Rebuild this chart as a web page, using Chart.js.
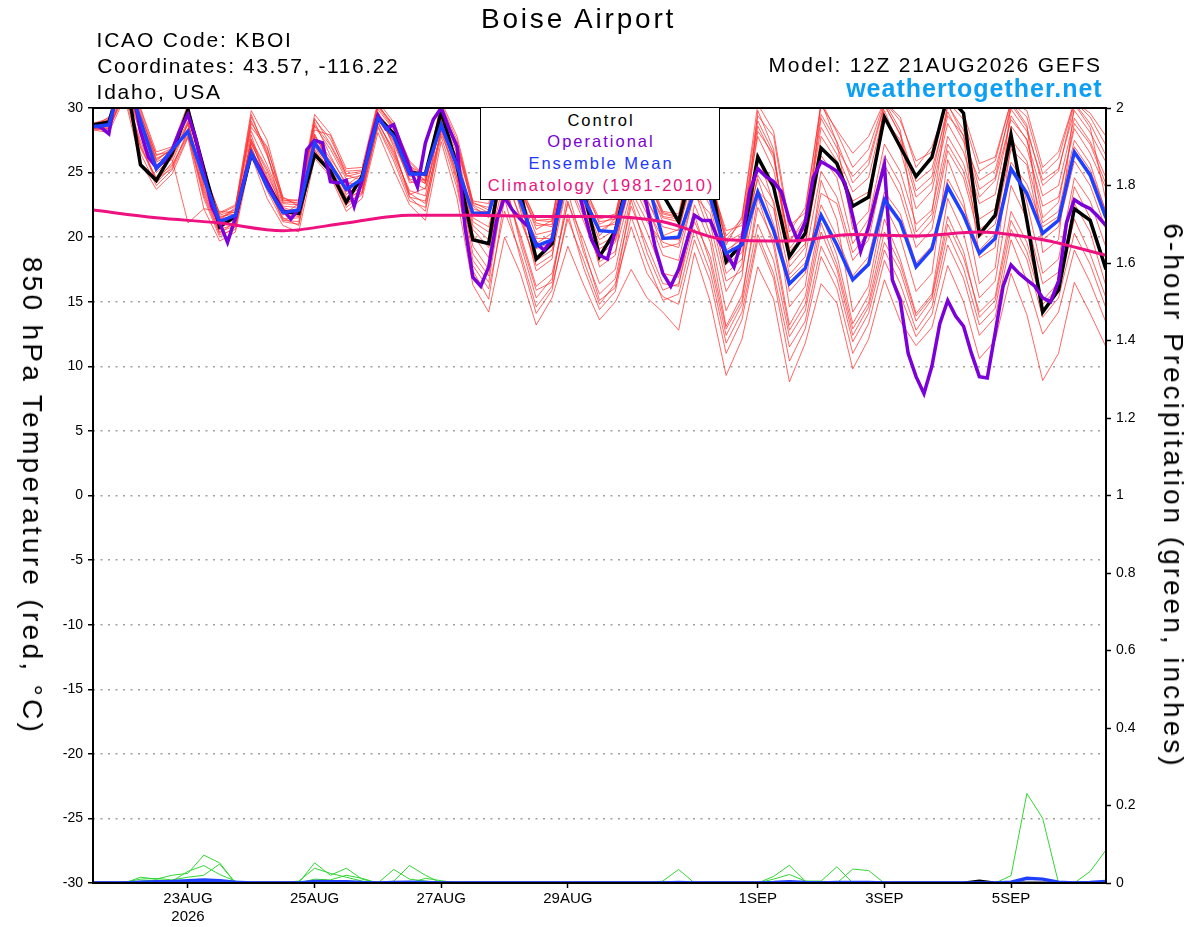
<!DOCTYPE html>
<html>
<head>
<meta charset="utf-8">
<title>Boise Airport - GEFS 850 hPa temperature</title>
<script src="https://cdn.jsdelivr.net/npm/chart.js@4.4.1/dist/chart.umd.min.js"></script>
<style>
  html, body { margin: 0; padding: 0; background: #fff; }
  body { width: 1200px; height: 927px; position: relative; overflow: hidden;
         font-family: "Liberation Sans", Arial, Helvetica, sans-serif; color: #000; }
  #chart { position: absolute; left: 0; top: 0; }
  .txt { position: absolute; white-space: nowrap; line-height: 1; }
  #title { left: 481px; top: 4.6px; font-size: 28px; letter-spacing: 2.8px; }
  .info { left: 96.5px; font-size: 21px; letter-spacing: 1.8px; }
  #model { right: 98.2px; top: 53.9px; font-size: 21px; letter-spacing: 1.75px; }
  #site { right: 97.3px; top: 75.5px; font-size: 25px; font-weight: bold; letter-spacing: 1px; color: #0c9ff4; }
  .vlab { position: absolute; white-space: nowrap; line-height: 1; font-size: 28px;
          transform: translate(-50%, -50%) rotate(90deg); }
  #ylab { left: 31.7px; top: 495.5px; letter-spacing: 3.3px; }
  #plab { left: 1173px; top: 495.5px; letter-spacing: 3px; }
  #legend { position: absolute; left: 480px; top: 107px; width: 240px; height: 93px; box-sizing: border-box;
            border: 1.5px solid #000; background: #fff; padding-top: 1.6px; z-index: 2; }
  #legend div { height: 21.7px; line-height: 21.7px; font-size: 16.5px; letter-spacing: 2px;
                padding-left: 2px; text-align: center; white-space: nowrap; }
</style>
</head>
<body>
<canvas id="chart" width="1200" height="927"></canvas>

<div class="txt" id="title">Boise Airport</div>
<div class="txt info" style="top:28.9px">ICAO Code: KBOI</div>
<div class="txt info" style="top:54.8px; left:97.3px; letter-spacing:1.6px">Coordinates: 43.57, -116.22</div>
<div class="txt info" style="top:80.7px">Idaho, USA</div>
<div class="txt" id="model">Model: 12Z 21AUG2026 GEFS</div>
<div class="txt" id="site">weathertogether.net</div>
<div class="vlab" id="ylab">850 hPa Temperature (red, °C)</div>
<div class="vlab" id="plab">6-hour Precipitation (green, inches)</div>
<div id="legend">
  <div style="color:#000">Control</div>
  <div style="color:#7a00d6">Operational</div>
  <div style="color:#2238ff">Ensemble Mean</div>
  <div style="color:#e8137e">Climatology (1981-2010)</div>
</div>

<script>
// forecast hours from 12Z 21AUG2026
const hours6 = [];
for (let h = 0; h <= 384; h += 6) hours6.push(h);
const hours3 = [];
for (let h = 0; h <= 384; h += 3) hours3.push(h);
const climHours = [0, 24, 48, 72, 96, 120, 144, 168, 192, 216, 240, 264, 288, 312, 336, 360, 384];

// x axis labels (00Z of each labelled day)
const tickHours = [36, 84, 132, 180, 252, 300, 348];
const tickLabels = ['23AUG', '25AUG', '27AUG', '29AUG', '1SEP', '3SEP', '5SEP'];
const tickYear = '2026';

// 850 hPa temperature, deg C
const controlTemp = [28.7, 28.9, 33, 25.6, 24.4, 26.5, 29.85, 25.3, 20.8, 21.6,
  26.4, 24.2, 22.0, 21.85, 26.4, 25.1, 22.7, 24.7, 29.3, 28.0,
  25.0, 24.9, 29.7, 25.5, 19.8, 19.5, 27, 23.5, 18.3, 19.5,
  26, 23.5, 18.5, 20.5, 25.5, 24, 23.3, 21.2, 26, 24.5,
  18.1, 19.5, 26.2, 23.9, 18.5, 20.3, 26.9, 25.7, 22.4, 23.1,
  29.3, 27.0, 24.7, 26.2, 31.0, 29.6, 20.2, 21.7, 27.9, 21.3,
  14.2, 15.9, 22.2, 21.3, 17.5];

const meanTemp = [28.55, 28.7, 33, 29, 25.3, 26.75, 28.2, 24.6, 21.2, 21.7,
  26.5, 23.9, 21.9, 22.1, 27.3, 25.6, 23.7, 24.5, 29.2, 27.8,
  24.9, 24.9, 28.7, 25.5, 21.85, 21.85, 26, 22.8, 19.3, 19.8,
  25, 23.0, 20.5, 20.4, 25, 24.5, 19.9, 20.0, 23.6, 23.0,
  18.75, 19.4, 23.5, 20.5, 16.4, 17.6, 21.7, 19.4, 16.7, 17.9,
  22.9, 21.2, 17.7, 19.1, 23.9, 21.7, 18.75, 19.9, 25.3, 23.4,
  20.3, 21.3, 26.6, 24.8, 21.5];

// operational run is 3-hourly
const operTemp = [28.6, 28.5, 28.0, 31.5, 32.5, 31.5, 28.2, 26.2, 25.4, 25.9,
  26.75, 28.3, 29.5, 27.6, 25.0, 22.4, 21.1, 19.6, 21.5, 24.2,
  26.5, 25.4, 24.2, 23.0, 22.1, 21.4, 22.2, 26.75, 27.5, 27.3,
  24.3, 24.2, 24.4, 22.4, 24.4, 27.3, 29.4, 28.4, 28.7, 27.0,
  25.45, 23.9, 27.3, 29.1, 30.0, 28.4, 27.0, 20.8, 16.9, 16.2,
  17.7, 21.3, 23.1, 22.1, 21.4, 20.8, 19.5, 19.0, 19.8, 22.9,
  25.5, 24.5, 22.0, 19.8, 18.6, 18.3, 20.5, 22.5, 25.0, 25.0,
  22.4, 19.3, 17.2, 16.2, 17.5, 19.6, 21.7, 21.3, 21.3, 19.8,
  18.8, 17.7, 19.8, 23.6, 25.3, 24.7, 24.3, 23.5, 21.3, 19.8,
  21.2, 24.6, 25.85, 25.5, 25.1, 24.2, 21.6, 18.9, 20.8, 23.3,
  25.6, 16.7, 15.1, 11.0, 9.2, 7.9, 10.0, 13.3, 15.1, 13.9,
  13.1, 11.0, 9.2, 9.1, 12.6, 16.2, 17.85, 17.2, 16.7, 16.2,
  15.3, 15.0, 16.6, 21.1, 22.9, 22.5, 22.2, 21.6, 20.9];

const climTemp = [22.1, 21.5, 21.1, 20.5, 21.1, 21.7, 21.7, 21.6, 21.6, 21.2, 19.8, 19.7, 20.2, 20.1, 20.4, 19.8, 18.6];

// ensemble members (subset read from the plume)
const member01 = [28.8, 29.2, 32.5, 30, 26.6, 27, 30.3, 25.2, 21.8, 22.4, 29.8, 27.5, 23, 22.8, 29.5, 28, 25.3, 25.4, 30.5, 28.9, 25.8, 24.6, 30.5, 27.8,
  22.8, 22.6, 28.5, 24, 21.3, 21.2, 27.5, 24, 21.4, 21.8, 27, 25, 22, 21.8, 27.5, 25, 19.4, 21.6, 29.4, 27.8, 20.4, 22.3, 30.2, 28.3,
  26.5, 27.8, 30.5, 29.3, 25.4, 27, 30.5, 29.6, 25.7, 26.2, 30.5, 29.8, 25.4, 26.6, 30.5, 29.6, 27.8];
const member02 = [28.3, 28.1, 30.8, 25.8, 23.7, 24.9, 27.7, 22.2, 19.7, 20.4, 26.3, 23, 20.9, 20.4, 26.1, 24.7, 22, 23, 28.1, 25.2, 22.5, 21.3, 27.4, 23,
  16.3, 14.2, 20, 17.2, 13.2, 15.3, 19.3, 16.3, 13.6, 15, 17.5, 15.3, 14.2, 12.8, 18.8, 15, 9.3, 12.1, 17.7, 15.2, 8.8, 11.8, 16.4, 14.9,
  9.8, 12.1, 16.7, 13.5, 11.6, 13, 17.8, 15, 10.6, 12, 17.2, 14, 8.9, 11, 16.5, 14.1, 11.5];
const member03 = [28.6, 28.8, 31.8, 28, 25.2, 26.3, 28.4, 24.3, 21, 21.5, 26.8, 24.5, 22, 22.2, 27.5, 25.9, 23.3, 24.2, 29.3, 27.4, 24.7, 25, 28.6, 25.4,
  21.9, 22, 26.5, 22.7, 19.5, 20.3, 25.8, 23.2, 20.8, 21, 25.5, 23, 20.1, 20.6, 25, 23.5, 19, 19.8, 24.5, 21, 16.8, 18, 22.5, 20,
  17, 18.5, 23.5, 21.8, 18, 19.3, 24.5, 22.3, 19, 20.3, 25.8, 24.1, 20.8, 21.6, 27, 25.2, 22];
const member04 = [28.4, 28.6, 31.5, 27, 24.6, 25.6, 27.9, 23.4, 20.3, 21.2, 27.6, 24, 21.4, 21.5, 27, 25, 22.7, 23.8, 29, 26.4, 23.6, 23.2, 29.2, 24.6,
  19.3, 17.5, 23.8, 20.2, 16.2, 17.2, 22.6, 19.8, 16.4, 17.5, 23.2, 20.4, 17.2, 16.9, 21.7, 18, 12.4, 14.8, 21, 18.2, 12.3, 14.3, 20.4, 17.5,
  12.4, 14.6, 19.6, 17.4, 13.5, 15.2, 21, 18.4, 14.2, 15.4, 22, 19.6, 15.1, 16.5, 22.6, 20.4, 16.2];
const member05 = [28.7, 29, 32.8, 29.5, 26.1, 26.7, 29.3, 24.8, 21.5, 22, 28.2, 25.6, 22.6, 22.5, 28.6, 26.8, 24.5, 24.8, 29.9, 28.3, 25.3, 24.1, 29.8, 26.8,
  22.4, 21.5, 27.3, 23.5, 20.9, 21, 26.5, 22.8, 19.8, 20.6, 26, 23.8, 21.5, 21.2, 26.2, 24.2, 20.5, 20.9, 27.8, 25.2, 19.8, 21, 28.5, 26.4,
  23.5, 24.6, 29.8, 26.8, 22.2, 23.6, 28.8, 26.6, 22.6, 23.3, 29.4, 27.5, 23.2, 24, 29.2, 27.4, 24.6];
const member06 = [28.5, 28.4, 31, 26.5, 24, 25.2, 27.8, 23, 20, 20.8, 26.5, 23.6, 21.2, 21, 26.7, 24.9, 22.3, 23.3, 28.5, 25.9, 22.8, 22.3, 27.8, 23.8,
  17.8, 16, 22, 18.8, 14.6, 16.2, 21.4, 18.2, 14.8, 16.4, 20.8, 17.2, 15.4, 14.8, 19.8, 16.6, 11, 13.6, 19.8, 16.8, 10.4, 12.9, 18.5, 16,
  11, 13.3, 18.2, 15.5, 12.3, 14, 19.4, 16.8, 12.4, 13.8, 19.8, 16.6, 12.5, 14.2, 19, 16.5, 13.4];
const member07 = [28.6, 28.9, 32, 28.5, 25.5, 26, 21.1, 22.2, 22, 21.9, 27.2, 24.8, 22.3, 21.9, 28, 25.5, 23.7, 24.6, 29.5, 27.7, 24.2, 24.5, 29, 25.9,
  20.9, 19.8, 25.3, 21.3, 18.2, 19, 24.5, 21.6, 18.6, 19.6, 24.3, 21.8, 18.6, 18.2, 23.6, 20.2, 14.3, 16.9, 26.4, 22.6, 14.6, 16.2, 24.4, 21.3,
  14.2, 16.2, 22.5, 20, 15.8, 17.2, 26, 22.8, 16.4, 17.6, 27.4, 22.7, 17.2, 18.3, 24.6, 22.8, 19.2];
const member08 = [28.4, 28.7, 32.2, 29.2, 25.8, 26.5, 29, 24, 20.6, 21.7, 29.3, 26.6, 21.7, 22.6, 29.2, 27.2, 24.9, 25.1, 29.7, 27, 23.1, 22.8, 28.2, 26.3,
  20.2, 18.4, 26.8, 22.1, 17.4, 18.3, 27, 22.4, 17.7, 18.6, 26.5, 22.5, 19.2, 19.5, 24, 21, 15.8, 17.9, 29.8, 26.8, 17.7, 19.2, 30.5, 27.3,
  20.6, 22, 30.5, 28.3, 20.4, 21.8, 30.3, 27.8, 18.4, 19.2, 30.5, 28.7, 18.8, 19.8, 30.3, 28.5, 22.8];
const member09 = [28.5, 28.5, 31.2, 27.5, 24.3, 25.8, 28.8, 23.8, 20.6, 21, 27.9, 24.2, 21.9, 21.7, 26.5, 25.2, 23, 23.6, 28.8, 26.8, 23.3, 23.8, 28, 25,
  18.7, 17, 24.6, 19.5, 15.3, 16.8, 22.8, 18.8, 15.6, 16.8, 22.4, 19.4, 16.4, 16.2, 22.5, 19.6, 13.1, 15.5, 22.3, 19.8, 13.2, 15.4, 21.8, 18.6,
  13.3, 15.5, 21.4, 18.3, 14.1, 15.6, 23, 20.3, 15.3, 16.6, 24, 21.4, 16.4, 17.3, 23.9, 21.5, 17.8];
const member10 = [28.7, 29.1, 32.6, 29.7, 25.9, 26.9, 29.6, 25.4, 21.3, 22.2, 28.8, 27, 22.8, 22.9, 28.9, 26.3, 24, 24.9, 30.2, 28.6, 25.6, 24.3, 29.5, 27.3,
  22.6, 22.3, 28, 23.8, 21.3, 21.4, 27.8, 23.6, 21.2, 21.4, 26.6, 24.6, 21.9, 21.6, 27, 24.6, 19.6, 20.3, 29, 26.5, 19.1, 20.7, 29.2, 26.9,
  24.7, 26, 30.3, 27.9, 23.6, 24.7, 30.2, 28.3, 23.7, 24.6, 30.3, 28.5, 24, 25.1, 30.4, 28.8, 26.3];
const member11 = [28.5, 29.3, 31.6, 28.8, 25, 26.2, 29.8, 24.5, 21.6, 21.8, 27.5, 25.3, 22.4, 22.3, 27.8, 26.1, 24.2, 24.1, 29.6, 28.1, 25.1, 24.3, 29.3, 26.5,
  21.5, 20.8, 25.8, 22.5, 19.9, 19.9, 25.4, 22.6, 19.4, 20.1, 25.2, 22.8, 20.8, 20.5, 25.5, 22.9, 17.9, 18.8, 25.4, 23.8, 18.2, 19.5, 26.3, 24.6,
  19.5, 21.4, 27.2, 25.1, 21, 22.1, 27.8, 25.7, 21.4, 22.2, 28.6, 26.9, 22.4, 23.1, 28.4, 26.5, 23.8];
const member12 = [28.4, 28.3, 31.3, 27.2, 24.2, 25.5, 28.1, 23.2, 20.2, 20.6, 27, 23.8, 21.5, 20.9, 26.8, 24.8, 22.6, 23.4, 28.6, 26.2, 23.1, 22, 28.3, 24.2,
  17.4, 15.2, 23, 18.4, 14.1, 15.9, 21.8, 17.6, 14.4, 15.8, 21.6, 18.1, 15.1, 15.6, 20.6, 17.3, 11.8, 14.2, 20.2, 17.2, 11.5, 13.5, 19.3, 16.8,
  11.9, 14.1, 19, 16.4, 12.8, 14.6, 20.3, 17.6, 13.2, 14.5, 20.6, 18.3, 13.8, 15.3, 20.3, 17.9, 14.5];
const member13 = [28.6, 28.7, 32, 28.2, 25.6, 26.4, 28.7, 24.2, 21.1, 21.3, 27.3, 24.6, 21.8, 21.6, 27.3, 25.4, 23.1, 23.9, 29.1, 27.5, 24.4, 23.7, 28.9, 25.7,
  20.6, 19.2, 24.6, 21.6, 17.8, 18.6, 24.2, 21.2, 18.1, 18.9, 23.6, 21.2, 19.6, 19.2, 23.2, 21.8, 16.6, 17.4, 23.6, 22.2, 15.8, 17.2, 23.4, 22.6,
  18.2, 19.8, 25.6, 23.3, 19.2, 20.6, 26.7, 24.6, 20, 21, 26.8, 25.6, 19.8, 20.8, 25.9, 24, 20.6];
const member14 = [28.8, 29, 32.4, 29.9, 26.3, 26.9, 29.5, 25, 21.7, 22.1, 29, 26.3, 22.9, 22.6, 29.1, 27.6, 25.1, 25.2, 30.2, 28.7, 25.9, 24.7, 30.3, 27.5,
  22.7, 22.1, 27.7, 23.6, 21.1, 20.8, 26.9, 23.4, 20.5, 21.2, 26.6, 24.3, 21.8, 21.5, 26.8, 24.6, 19.8, 21.2, 28.6, 26.1, 19.6, 21.5, 29.5, 27.4,
  24.2, 25.6, 30.2, 28, 24.3, 25.3, 29.7, 27.4, 24.4, 25.2, 29.9, 28.2, 24.4, 25.3, 29.8, 28.1, 25.8];
const member15 = [28.6, 29.1, 32.1, 29.4, 26.4, 26.6, 30.1, 24.9, 21.9, 22.5, 28.5, 26.9, 23.1, 22.4, 28.3, 27.9, 24.8, 24.4, 30.1, 28.4, 25.5, 24.8, 29.9, 27.1,
  22.2, 21.8, 27, 23.2, 20.2, 20.5, 26.2, 23.9, 20.1, 21.5, 26.3, 24.1, 21.2, 20.8, 26.5, 23.6, 18.6, 20.2, 28.2, 26.4, 18.9, 20.2, 27.8, 25.9,
  22.8, 23.5, 29.2, 27.5, 23.1, 24.2, 29.4, 27.9, 23.1, 24.4, 29.1, 27.6, 21.5, 22.7, 28.8, 27.2, 24.1];
const member16 = [28.3, 28.4, 31.4, 26.9, 24.5, 25.3, 28.3, 23.6, 20.4, 20.9, 26.9, 24.1, 21.3, 21.2, 27.1, 25.3, 22.5, 23.5, 28.9, 26.6, 23.4, 22.6, 28.5, 24.5,
  18.2, 16.5, 24.2, 19.9, 15.9, 16.5, 23.5, 19.2, 15.1, 16.1, 22.9, 18.8, 15.9, 16.4, 21.2, 18.5, 12.9, 15.1, 23.1, 19.3, 12.8, 14.8, 21.1, 17.9,
  12.9, 14.9, 20.4, 17.9, 13.9, 15.4, 21.6, 18.9, 13.8, 15.1, 21.3, 18.9, 14.8, 16.1, 21.4, 18.7, 15.3];
const member17 = [28.5, 28.9, 31.9, 28.6, 25.4, 26.1, 28.9, 24.4, 21.4, 21.6, 27.4, 25.1, 22.1, 22, 27.9, 25.7, 23.5, 24.3, 29.4, 27.2, 24.5, 24.2, 29.1, 26.1,
  21.2, 20.4, 25.9, 22.3, 19.1, 19.6, 25.1, 22.1, 19.1, 19.8, 24.8, 22.2, 19.9, 19.8, 24.6, 22.4, 17.2, 18.3, 24.8, 22.8, 17.1, 18.5, 25.1, 23.1,
  18.8, 20.4, 26.3, 24.1, 19.9, 21.3, 27.2, 25.1, 20.6, 21.5, 27.6, 25.9, 21.1, 22, 27.5, 25.7, 21.9];
const member18 = [28.7, 29, 32.3, 29.1, 26, 26.8, 29.9, 25.1, 21.4, 22.3, 29.5, 26.4, 22.7, 22.7, 28.7, 27.1, 24.7, 25, 30.3, 28.5, 25.4, 24.4, 30.1, 27.2,
  22.5, 21.9, 28.2, 23.9, 20.6, 21.3, 28.1, 24.2, 21, 21.6, 27.3, 24.9, 21.6, 21.4, 27.9, 24.8, 20.1, 21.4, 30.3, 28.2, 20.9, 21.9, 30.5, 28.1,
  25.4, 26.8, 30.5, 29, 25.9, 26.6, 30.5, 29.1, 25.1, 25.9, 30.5, 29.3, 24.9, 26.1, 30.5, 29.3, 27.1];
const memberTemps = [member01, member02, member03, member04, member05, member06, member07, member08, member09,
  member10, member11, member12, member13, member14, member15, member16, member17, member18];

// 6-hour precipitation, inches
const precipMemberA = [0, 0, 0, 0.015, 0.01, 0.02, 0.025, 0.072, 0.052, 0,
  0, 0, 0, 0, 0.052, 0.02, 0.038, 0.01, 0, 0.035,
  0.01, 0.005, 0, 0, 0, 0, 0, 0, 0, 0,
  0, 0, 0, 0, 0, 0, 0.005, 0.035, 0, 0,
  0, 0, 0, 0.017, 0.046, 0.005, 0.005, 0.042, 0, 0,
  0, 0, 0, 0, 0, 0, 0, 0, 0.019, 0.231,
  0.167, 0, 0, 0.03, 0.085];
const precipMemberB = [0, 0, 0, 0.005, 0.008, 0.005, 0.03, 0.045, 0.022, 0.005,
  0, 0, 0, 0.005, 0.038, 0.025, 0.015, 0.005, 0, 0.005,
  0.045, 0.02, 0, 0, 0, 0, 0, 0, 0, 0,
  0, 0, 0, 0, 0, 0, 0, 0, 0, 0,
  0, 0, 0, 0.01, 0.022, 0.005, 0, 0, 0.036, 0.032,
  0, 0, 0, 0, 0, 0, 0, 0, 0, 0,
  0, 0, 0, 0, 0];
const precipMemberC = [0, 0, 0.002, 0.01, 0.012, 0.008, 0.015, 0.02, 0.049, 0,
  0, 0, 0, 0, 0.01, 0.008, 0.02, 0.012, 0, 0,
  0, 0.012, 0.006, 0, 0, 0, 0, 0, 0, 0,
  0, 0, 0, 0, 0, 0, 0, 0, 0, 0,
  0, 0, 0, 0, 0, 0, 0.004, 0, 0, 0,
  0, 0, 0, 0, 0, 0, 0, 0, 0, 0,
  0, 0, 0, 0, 0];
const precipMean = [0, 0, 0, 0.002, 0.003, 0.004, 0.006, 0.008, 0.006, 0.002,
  0, 0, 0, 0, 0.004, 0.003, 0.003, 0.001, 0, 0.001,
  0.002, 0.001, 0, 0, 0, 0, 0, 0, 0, 0,
  0, 0, 0, 0, 0, 0, 0, 0.001, 0, 0,
  0, 0, 0, 0.001, 0.003, 0.001, 0, 0.001, 0.001, 0.001,
  0, 0, 0, 0, 0, 0, 0, 0, 0.002, 0.012,
  0.01, 0.002, 0, 0.001, 0.004];
const precipControl = [0, 0, 0, 0, 0, 0, 0, 0, 0, 0,
  0, 0, 0, 0, 0, 0, 0, 0, 0, 0,
  0, 0, 0, 0, 0, 0, 0, 0, 0, 0,
  0, 0, 0, 0, 0, 0, 0, 0, 0, 0,
  0, 0, 0, 0, 0, 0, 0, 0, 0, 0,
  0, 0, 0, 0, 0, 0, 0.005, 0, 0, 0,
  0, 0, 0, 0, 0];
const precipMembers = [precipMemberA, precipMemberB, precipMemberC];

const FONT = "'Liberation Sans', Arial, Helvetica, sans-serif";
const pts = (hrs, vals) => hrs.map((h, k) => ({ x: h, y: vals[k] }));

const line = (data, color, width, order, axis) => ({
  data, borderColor: color, borderWidth: width, order,
  yAxisID: axis || 'y', pointRadius: 0, tension: 0, fill: false
});

const datasets = [
  Object.assign(line(pts(climHours, climTemp), '#ee1280', 3, 0), { cubicInterpolationMode: 'monotone' }),
  line(pts(hours6, meanTemp), '#2040ff', 3.5, 1),
  line(pts(hours3, operTemp), '#7b00d9', 3.5, 2),
  line(pts(hours6, controlTemp), '#000000', 3.5, 3),
  line(pts(hours6, precipMean), '#2040ff', 3.5, 4, 'yP'),
  line(pts(hours6, precipControl), '#000000', 3, 5, 'yP')
];
precipMembers.forEach(p => datasets.push(line(pts(hours6, p), '#33d633', 1, 6, 'yP')));
memberTemps.forEach(m => datasets.push(line(pts(hours6, m), 'rgba(255,45,45,0.72)', 1, 7)));

// black frame round the plot area
const framePlugin = {
  id: 'frame',
  afterDatasetsDraw(chart) {
    const { ctx, chartArea: a } = chart;
    ctx.save();
    ctx.strokeStyle = '#000';
    ctx.lineWidth = 2;
    ctx.strokeRect(a.left, a.top, a.right - a.left, a.bottom - a.top);
    ctx.restore();
  }
};

new Chart(document.getElementById('chart').getContext('2d'), {
  type: 'line',
  data: { datasets },
  options: {
    responsive: false,
    devicePixelRatio: 1,
    animation: false,
    events: [],
    layout: { padding: { top: 108, left: 0, right: 0, bottom: 0 } },
    plugins: { legend: { display: false }, tooltip: { enabled: false } },
    scales: {
      x: {
        type: 'linear', position: 'bottom', min: 0, max: 384,
        afterBuildTicks: a => { a.ticks = tickHours.map(v => ({ value: v })); },
        afterFit: a => { a.height = 44; },
        ticks: {
          autoSkip: false, maxRotation: 0, padding: 2, color: '#000',
          font: { family: FONT, size: 15 },
          callback: v => {
            const k = tickHours.indexOf(v);
            return k === 0 ? [tickLabels[k], tickYear] : tickLabels[k];
          }
        },
        grid: { drawOnChartArea: false, drawTicks: true, tickLength: 5, tickColor: '#000', tickWidth: 1.5 },
        border: { display: false }
      },
      y: {
        position: 'left', min: -30, max: 30,
        afterFit: a => { a.width = 93; },
        ticks: { stepSize: 5, padding: 5, color: '#000', font: { family: FONT, size: 14 },
                 callback: v => String(Math.round(v)) },
        grid: { color: '#a0a0a0', lineWidth: 1.5, tickLength: 5, tickColor: '#000', tickWidth: 1.5, tickBorderDash: [] },
        border: { display: false, dash: [2, 5.5] }
      },
      yP: {
        position: 'right', min: 0, max: 2,
        afterFit: a => { a.width = 94; },
        ticks: { stepSize: 0.2, padding: 5, color: '#000', font: { family: FONT, size: 14 },
                 callback: v => String(Math.round(v * 10) / 10) },
        grid: { drawOnChartArea: false, tickLength: 5, tickColor: '#000', tickWidth: 1.5 },
        border: { display: false }
      }
    }
  },
  plugins: [framePlugin]
});
</script>
</body>
</html>
